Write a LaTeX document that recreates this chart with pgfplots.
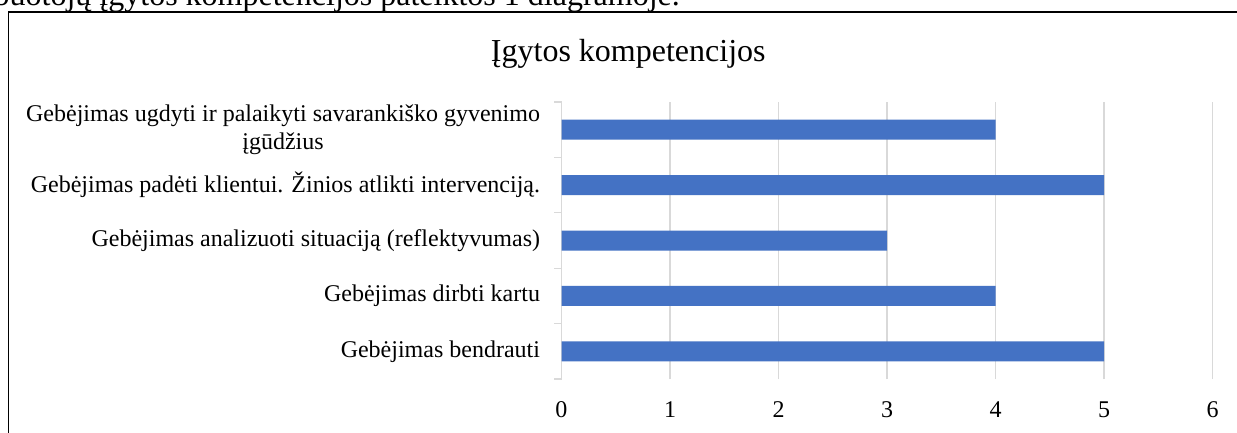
\documentclass[border=0pt]{standalone}
\usepackage{fontspec}
\setmainfont{Liberation Serif}
\usepackage{pgfplots}
\pgfplotsset{compat=1.18}
\definecolor{barblue}{HTML}{4472C4}
\definecolor{gridgray}{HTML}{D9D9D9}
\begin{document}
\begin{tikzpicture}[x=1pt,y=1pt]
\useasboundingbox (0,0) rectangle (1237,432);
\fill[white] (0,0) rectangle (1237,432);
\node[anchor=base east, inner sep=0, font=\fontsize{32}{38}\selectfont] at (680,426) {Darbuotojų įgytos kompetencijos pateiktos 1 diagramoje.};
\draw[black, line width=1.6pt] (8.3,-20) -- (8.3,420) -- (1270,420);
\node[anchor=base, inner sep=0, font=\fontsize{32}{38}\selectfont] at (628.3,370.3) {Įgytos kompetencijos};
\begin{axis}[
  at={(561.5pt,53pt)}, anchor=south west,
  scale only axis, width=651pt, height=277pt,
  xbar, bar width=20pt,
  xmin=0, xmax=6, ymin=-0.5, ymax=4.5,
  enlargelimits=false,
  axis y line*=left, axis x line*=bottom,
  x axis line style={draw=none},
  y axis line style={draw=gridgray, line width=1.2pt, -},
  xtick={0,1,2,3,4,5,6},
  xmajorgrids, major grid style={draw=gridgray, line width=1.2pt},
  major x tick style={draw=none},
  ytick={0,1,2,3,4},
  yticklabels={{Gebėjimas bendrauti},{Gebėjimas dirbti kartu},{Gebėjimas analizuoti situaciją (reflektyvumas)},{Gebėjimas padėti klientui. Žinios atlikti intervenciją.},{Gebėjimas ugdyti ir palaikyti savarankiško gyvenimo\\įgūdžius}},
  major y tick style={draw=none},
  minor ytick={-0.5,0.5,1.5,2.5,3.5,4.5},
  minor tick length=7pt,
  minor y tick style={draw=gridgray, line width=1.2pt},
  tick align=outside,
  yticklabel style={align=center, font=\fontsize{24}{28}\selectfont, inner sep=0pt, xshift=-17pt},
  xticklabel style={font=\fontsize{24}{28}\selectfont, inner sep=0pt, yshift=-18pt},
  /pgf/number format/assume math mode=true,
]
\addplot[fill=barblue, draw=none] coordinates {(5,0) (4,1) (3,2) (5,3) (4,4)};
\end{axis}
\end{tikzpicture}
\end{document}
